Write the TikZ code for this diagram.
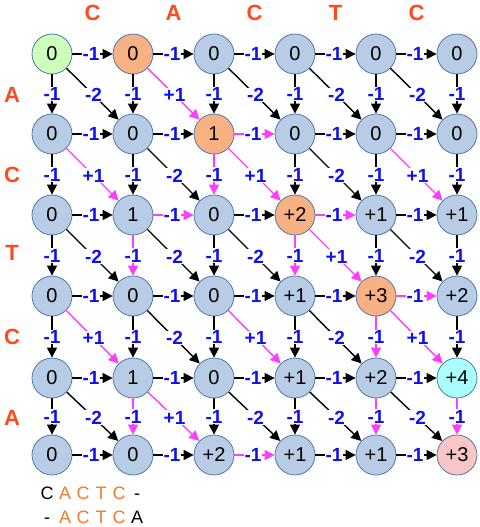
\documentclass[tikz,border=0pt]{standalone}
\usepackage{fontspec}
\setmainfont{Liberation Sans}
\usetikzlibrary{arrows.meta}
\definecolor{nodeblue}{HTML}{B8CCE5}
\definecolor{nodeedge}{HTML}{4F78AA}
\definecolor{greenc}{HTML}{CCFFBB}
\definecolor{orangec}{HTML}{F7B183}
\definecolor{cyanc}{HTML}{AAFFFF}
\definecolor{pinkc}{HTML}{F8C6C6}
\definecolor{lblblue}{HTML}{1010F0}
\definecolor{hlmag}{HTML}{FF3DFF}
\definecolor{seqred}{HTML}{FF4A1C}
\definecolor{seqorange}{HTML}{F57A2A}
\makeatletter
\newcommand\pickcol[3]{\edef\mytmp{\noexpand\in@{,#2-#3,}{#1}}\mytmp
  \ifin@\def\ecol{hlmag}\else\def\ecol{black}\fi}
\makeatother
\newcommand\bc[1]{\makebox[18pt]{#1}}
\def\hmag{,1-2,2-1,2-3,3-4,5-2,}
\def\vmag{,1-2,2-1,2-3,3-4,4-1,4-4,4-5,}
\def\dmag{,0-1,1-0,1-2,1-4,2-3,3-0,3-2,3-4,4-1,}
\begin{document}
\begin{tikzpicture}[x=1pt,y=-1pt,
  cell/.style={circle, draw=nodeedge, line width=0.8pt, minimum size=40pt, inner sep=0pt,
    font=\fontsize{20}{20}\selectfont},
  edgelbl/.style={fill=white, inner sep=0.6pt, text=lblblue,
    font=\bfseries\fontsize{19}{19}\selectfont},
  arr/.style={line width=1.4pt, -{Triangle[length=10pt,width=10pt]}},
  seqlet/.style={text=seqred, font=\bfseries\fontsize{22}{22}\selectfont},
  aligntxt/.style={font=\fontsize{18}{18}\selectfont, inner sep=0pt, anchor=west}]
\useasboundingbox[fill=white] (0,0) rectangle (479,527);
% nodes
\foreach \i/\j/\yy/\v/\f in {
  0/0/54/0/greenc, 0/1/54/0/orangec, 0/2/54/0/nodeblue, 0/3/54/0/nodeblue, 0/4/54/0/nodeblue, 0/5/54/0/nodeblue,
  1/0/134/0/nodeblue, 1/1/134/0/nodeblue, 1/2/134/1/orangec, 1/3/134/0/nodeblue, 1/4/134/0/nodeblue, 1/5/134/0/nodeblue,
  2/0/215/0/nodeblue, 2/1/215/1/nodeblue, 2/2/215/0/nodeblue, 2/3/215/+2/orangec, 2/4/215/+1/nodeblue, 2/5/215/+1/nodeblue,
  3/0/296/0/nodeblue, 3/1/296/0/nodeblue, 3/2/296/0/nodeblue, 3/3/296/+1/nodeblue, 3/4/296/+3/orangec, 3/5/296/+2/nodeblue,
  4/0/378/0/nodeblue, 4/1/378/1/nodeblue, 4/2/378/0/nodeblue, 4/3/378/+1/nodeblue, 4/4/378/+2/nodeblue, 4/5/378/+4/cyanc,
  5/0/455/0/nodeblue, 5/1/455/0/nodeblue, 5/2/455/+2/nodeblue, 5/3/455/+1/nodeblue, 5/4/455/+1/nodeblue, 5/5/455/+3/pinkc}
  \node[cell, fill=\f] (n-\i-\j) at ({52+81*\j},\yy) {\v};
% horizontal edges
\foreach \i in {0,...,5}{
  \foreach \j in {0,...,4}{
    \pgfmathtruncatemacro\nj{\j+1}
    \pickcol\hmag\i\j
    \draw[arr, draw=\ecol, color=\ecol] (n-\i-\j) -- node[edgelbl, xshift=-1.5pt]{-1} (n-\i-\nj);
  }}
% vertical edges
\foreach \i in {0,...,4}{
  \foreach \j in {0,...,5}{
    \pgfmathtruncatemacro\ni{\i+1}
    \pickcol\vmag\i\j
    \draw[arr, draw=\ecol, color=\ecol] (n-\i-\j) -- node[edgelbl]{-1} (n-\ni-\j);
  }}
% diagonal edges
\foreach \row [count=\i from 0] in {{-2,+1,-2,-2,-2},{+1,-2,+1,-2,+1},{-2,-2,-2,+1,-2},{+1,-2,+1,-2,+1},{-2,+1,-2,-2,-2}}{
  \foreach \lab [count=\j from 0] in \row {
    \pgfmathtruncatemacro\ni{\i+1}
    \pgfmathtruncatemacro\nj{\j+1}
    \pickcol\dmag\i\j
    \draw[arr, draw=\ecol, color=\ecol] (n-\i-\j) -- node[edgelbl, pos=0.52]{\lab} (n-\ni-\nj);
  }}
% sequence letters
\foreach \l/\x [count=\k] in {C/92.5, A/173.5, C/254.5, T/335.5, C/416.5}
  \node[seqlet] (top\k) at (\x,13) {\l};
\foreach \l/\y [count=\k] in {A/95, C/175, T/253, C/337, A/418}
  \node[seqlet] (left\k) at (12,\y) {\l};
% alignment text
\node[aligntxt] (al1) at (38,493) {\bc{C}\bc{\color{seqorange}A}\bc{\color{seqorange}C}\bc{\color{seqorange}T}\bc{\color{seqorange}C}\bc{-}};
\node[aligntxt] (al2) at (38,517) {\bc{-}\bc{\color{seqorange}A}\bc{\color{seqorange}C}\bc{\color{seqorange}T}\bc{\color{seqorange}C}\bc{A}};
\end{tikzpicture}
\end{document}
